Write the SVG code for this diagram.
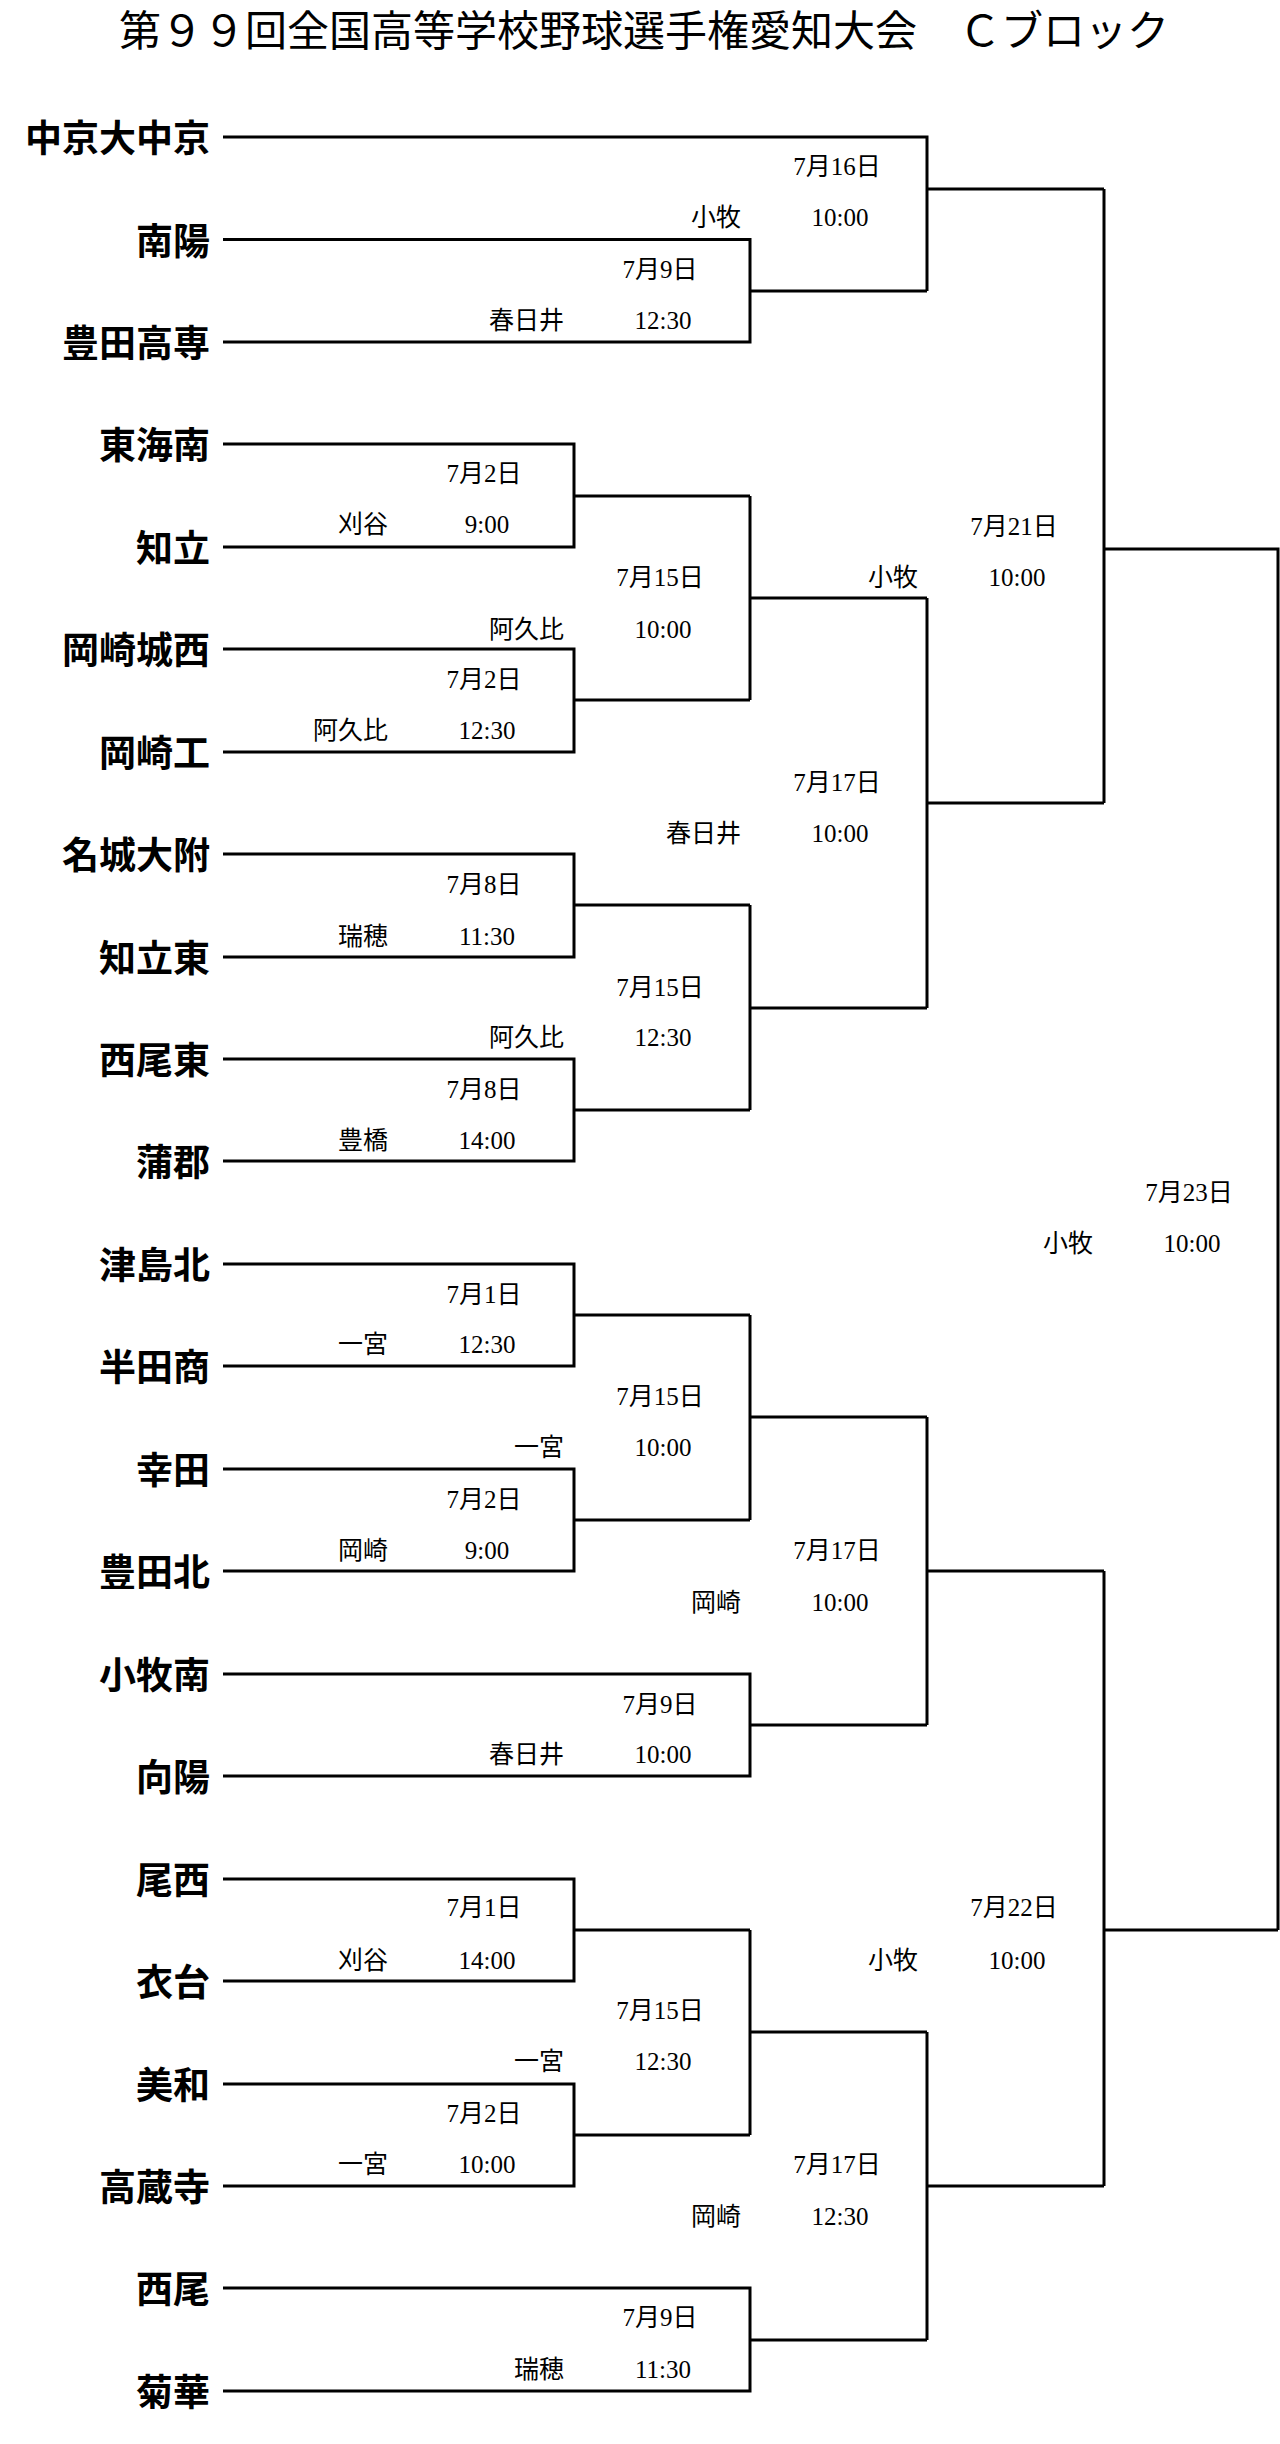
<svg xmlns="http://www.w3.org/2000/svg" width="1280" height="2444" viewBox="0 0 1280 2444">
<style>
.t{font-family:"Noto Sans CJK JP",sans-serif;font-weight:bold;font-size:37px;text-anchor:end}
.d{font-family:"Liberation Serif","Noto Sans CJK JP",serif;font-size:25px;text-anchor:middle}
.v{font-family:"Liberation Serif","Noto Sans CJK JP",serif;font-size:25px;text-anchor:end}
.ttl{font-family:"Noto Sans CJK JP",sans-serif;font-size:42px;text-anchor:middle}
#lines path{fill:none;stroke:#000;stroke-width:3}
</style>
<rect width="1280" height="2444" fill="#fff"/>
<text class="ttl" x="644" y="46">第９９回全国高等学校野球選手権愛知大会　Ｃブロック</text>
<g id="lines">
<path d="M223 137H927V291"/>
<path d="M223 239.5H750V342H223"/>
<path d="M750 291H927M927 189H1104"/>
<path d="M223 444H574V547H223M574 496H750"/>
<path d="M223 649H574V752H223M574 700H750"/>
<path d="M750 496V700M750 598H927"/>
<path d="M223 854H574V957H223M574 905H750"/>
<path d="M223 1059H574V1161H223M574 1110H750"/>
<path d="M750 905V1110M750 1008H927"/>
<path d="M927 598V1008M927 803H1104"/>
<path d="M1104 189V803M1104 549H1278V1930"/>
<path d="M223 1264H574V1366H223M574 1315H750"/>
<path d="M223 1469H574V1571H223M574 1520H750"/>
<path d="M750 1315V1520M750 1417H927"/>
<path d="M223 1674H750V1776H223M750 1725H927"/>
<path d="M927 1417V1725M927 1571H1104"/>
<path d="M223 1879H574V1981H223M574 1930H750"/>
<path d="M223 2084H574V2186H223M574 2135H750"/>
<path d="M750 1930V2135M750 2032H927"/>
<path d="M223 2288H750V2391H223M750 2340H927"/>
<path d="M927 2032V2340M927 2186H1104"/>
<path d="M1104 1571V2186M1104 1930H1278"/>
</g>
<g id="teams">
<g id="t0"><text class="t" x="210" y="152">中京大中京</text></g>
<g id="t1"><text class="t" x="210" y="255">南陽</text></g>
<g id="t2"><text class="t" x="210" y="357">豊田高専</text></g>
<g id="t3"><text class="t" x="210" y="459">東海南</text></g>
<g id="t4"><text class="t" x="210" y="562">知立</text></g>
<g id="t5"><text class="t" x="210" y="664">岡崎城西</text></g>
<g id="t6"><text class="t" x="210" y="767">岡崎工</text></g>
<g id="t7"><text class="t" x="210" y="869">名城大附</text></g>
<g id="t8"><text class="t" x="210" y="972">知立東</text></g>
<g id="t9"><text class="t" x="210" y="1074">西尾東</text></g>
<g id="t10"><text class="t" x="210" y="1176">蒲郡</text></g>
<g id="t11"><text class="t" x="210" y="1279">津島北</text></g>
<g id="t12"><text class="t" x="210" y="1381">半田商</text></g>
<g id="t13"><text class="t" x="210" y="1484">幸田</text></g>
<g id="t14"><text class="t" x="210" y="1586">豊田北</text></g>
<g id="t15"><text class="t" x="210" y="1689">小牧南</text></g>
<g id="t16"><text class="t" x="210" y="1791">向陽</text></g>
<g id="t17"><text class="t" x="210" y="1894">尾西</text></g>
<g id="t18"><text class="t" x="210" y="1996">衣台</text></g>
<g id="t19"><text class="t" x="210" y="2099">美和</text></g>
<g id="t20"><text class="t" x="210" y="2201">高蔵寺</text></g>
<g id="t21"><text class="t" x="210" y="2303">西尾</text></g>
<g id="t22"><text class="t" x="210" y="2406">菊華</text></g>
</g>
<g id="labels">
<text class="d" x="837" y="175">7月16日</text><text class="v" x="741" y="226">小牧</text><text class="d" x="840" y="226">10:00</text>
<text class="d" x="660" y="278">7月9日</text><text class="v" x="564" y="329">春日井</text><text class="d" x="663" y="329">12:30</text>
<text class="d" x="484" y="482">7月2日</text><text class="v" x="388" y="533">刈谷</text><text class="d" x="487" y="533">9:00</text>
<text class="d" x="660" y="586">7月15日</text><text class="v" x="564" y="638">阿久比</text><text class="d" x="663" y="638">10:00</text>
<text class="d" x="484" y="688">7月2日</text><text class="v" x="388" y="739">阿久比</text><text class="d" x="487" y="739">12:30</text>
<text class="d" x="837" y="791">7月17日</text><text class="v" x="741" y="842">春日井</text><text class="d" x="840" y="842">10:00</text>
<text class="d" x="484" y="893">7月8日</text><text class="v" x="388" y="945">瑞穂</text><text class="d" x="487" y="945">11:30</text>
<text class="d" x="660" y="996">7月15日</text><text class="v" x="564" y="1046">阿久比</text><text class="d" x="663" y="1046">12:30</text>
<text class="d" x="484" y="1098">7月8日</text><text class="v" x="388" y="1149">豊橋</text><text class="d" x="487" y="1149">14:00</text>
<text class="d" x="1014" y="535">7月21日</text><text class="v" x="918" y="586">小牧</text><text class="d" x="1017" y="586">10:00</text>
<text class="d" x="1189" y="1201">7月23日</text><text class="v" x="1093" y="1252">小牧</text><text class="d" x="1192" y="1252">10:00</text>
<text class="d" x="484" y="1303">7月1日</text><text class="v" x="388" y="1353">一宮</text><text class="d" x="487" y="1353">12:30</text>
<text class="d" x="660" y="1405">7月15日</text><text class="v" x="564" y="1456">一宮</text><text class="d" x="663" y="1456">10:00</text>
<text class="d" x="484" y="1508">7月2日</text><text class="v" x="388" y="1559">岡崎</text><text class="d" x="487" y="1559">9:00</text>
<text class="d" x="837" y="1559">7月17日</text><text class="v" x="741" y="1611">岡崎</text><text class="d" x="840" y="1611">10:00</text>
<text class="d" x="660" y="1713">7月9日</text><text class="v" x="564" y="1763">春日井</text><text class="d" x="663" y="1763">10:00</text>
<text class="d" x="1014" y="1916">7月22日</text><text class="v" x="918" y="1969">小牧</text><text class="d" x="1017" y="1969">10:00</text>
<text class="d" x="484" y="1916">7月1日</text><text class="v" x="388" y="1969">刈谷</text><text class="d" x="487" y="1969">14:00</text>
<text class="d" x="660" y="2019">7月15日</text><text class="v" x="564" y="2070">一宮</text><text class="d" x="663" y="2070">12:30</text>
<text class="d" x="484" y="2122">7月2日</text><text class="v" x="388" y="2173">一宮</text><text class="d" x="487" y="2173">10:00</text>
<text class="d" x="837" y="2173">7月17日</text><text class="v" x="741" y="2225">岡崎</text><text class="d" x="840" y="2225">12:30</text>
<text class="d" x="660" y="2326">7月9日</text><text class="v" x="564" y="2378">瑞穂</text><text class="d" x="663" y="2378">11:30</text>
</g>
</svg>
